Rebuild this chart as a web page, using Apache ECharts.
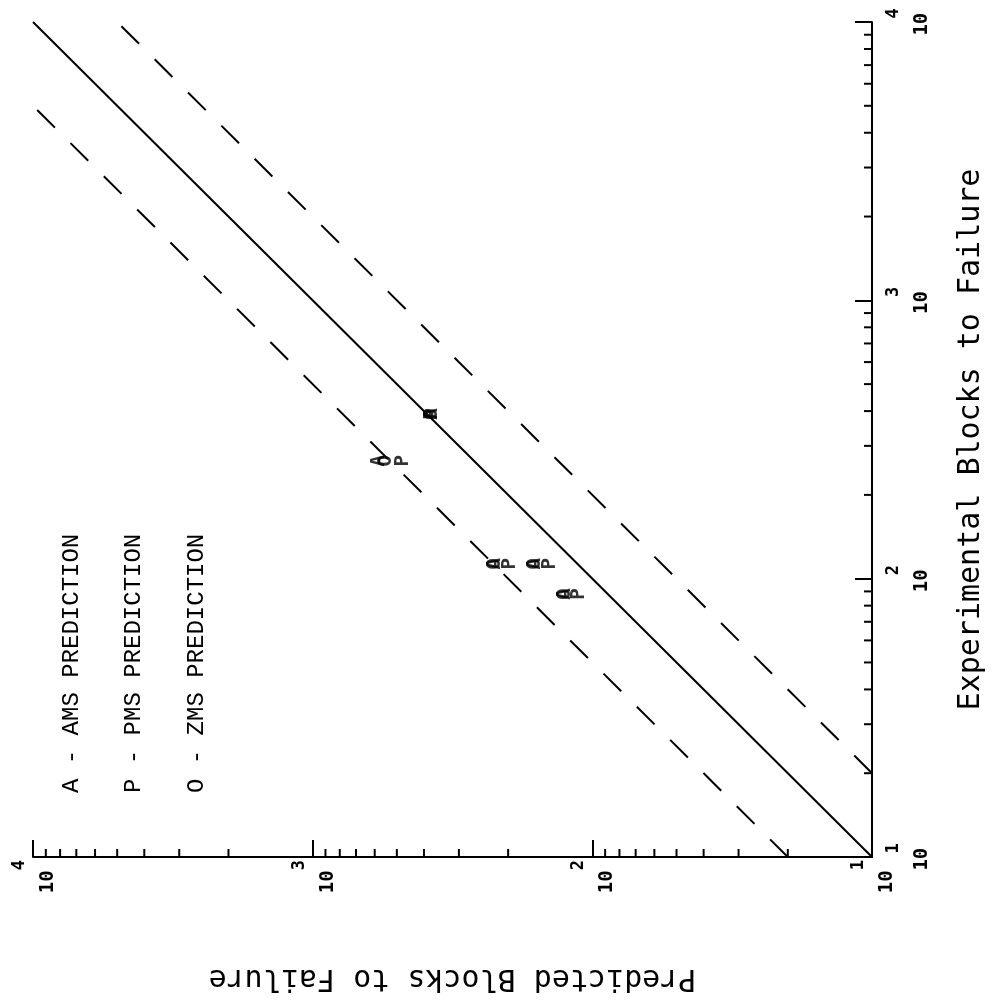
<!DOCTYPE html>
<html>
<head>
<meta charset="utf-8">
<script src="https://cdn.jsdelivr.net/npm/echarts@6/dist/echarts.min.js"></script>
<style>
  html, body { margin: 0; padding: 0; background: #fff; }
  #chart { width: 996px; height: 1003px; }
</style>
</head>
<body>
<div id="chart"></div>
<script>
// Predicted vs experimental blocks to failure on log-log axes, drawn a quarter turn
// counter-clockwise: experimental runs up the right edge, predicted runs along the bottom.
const experimental  = [390, 265, 113, 113, 88];
const amsPrediction = [374, 579, 223, 160, 125];
const pmsPrediction = [374, 475, 197, 142, 112];
const zmsPrediction = [374, 547, 223, 160, 125];

const legendLines = ['A - AMS PREDICTION', 'P - PMS PREDICTION', 'O - ZMS PREDICTION'];
const markerLetters = ['A', 'P', 'O'];
const axisRange = [10, 10000];
const bandFactor = 2;            // dashed lines at twice and half the experimental life
const xTitle = 'Experimental Blocks to Failure';
const yTitle = 'Predicted Blocks to Failure';

const MONO = '"DejaVu Sans Mono", monospace';

// minor tick values 2..9 in each decade
const minorTicks = [];
for (let d = axisRange[0]; d < axisRange[1]; d *= 10) {
  for (let k = 2; k <= 9; k++) minorTicks.push(k * d);
}

// pairs are [predicted, experimental]: predicted on the horizontal axis
const pairs = (pred) => experimental.map((e, i) => [pred[i], e]);

function minorTickSeries(onBottom) {
  return {
    type: 'custom',
    silent: true,
    clip: false,
    z: 5,
    data: minorTicks.map(v => onBottom ? [v, axisRange[0]] : [axisRange[0], v]),
    renderItem: (params, api) => {
      const p = api.coord([api.value(0), api.value(1)]);
      const shape = onBottom
        ? { x1: p[0], y1: p[1], x2: p[0], y2: p[1] - 8 }
        : { x1: p[0], y1: p[1], x2: p[0] - 8, y2: p[1] };
      return { type: 'line', shape, style: { stroke: '#000', lineWidth: 2 } };
    }
  };
}

function refLine(data, dashed) {
  return {
    type: 'line',
    data,
    silent: true,
    symbol: 'none',
    lineStyle: { color: '#000', width: 2, type: dashed ? [25, 22] : 'solid' },
    z: 3
  };
}

function letterSeries(letter, pred) {
  return {
    type: 'scatter',
    data: pairs(pred),
    symbolSize: 1,
    itemStyle: { color: 'rgba(0,0,0,0)' },
    emphasis: { disabled: true },
    label: {
      show: true,
      position: 'inside',
      formatter: letter,
      rotate: 90,
      fontFamily: MONO,
      fontWeight: 700,
      fontSize: 19,
      color: '#000'
    },
    z: 6
  };
}

// "10" with its exponent raised above it; the whole block is turned with the axis
function tickLabel(margin, exponentShift) {
  return {
    margin,
    rotate: 90,
    fontFamily: MONO,
    fontWeight: 700,
    fontSize: 19,
    color: '#000',
    formatter: (v) => '{e|' + Math.round(Math.log10(v)) + '}\n{b|10}',
    rich: {
      e: { fontFamily: MONO, fontWeight: 700, fontSize: 17, lineHeight: 30, align: 'left', padding: [0, 0, 0, exponentShift], color: '#000' },
      b: { fontFamily: MONO, fontWeight: 700, fontSize: 19, lineHeight: 27, align: 'left', color: '#000' }
    }
  };
}

const axisCommon = {
  type: 'log',
  logBase: 10,
  min: axisRange[0],
  max: axisRange[1],
  splitLine: { show: false },
  axisLine: { show: true, lineStyle: { color: '#000', width: 2 } },
  axisTick: { show: true, inside: true, length: 17, lineStyle: { color: '#000', width: 2 } },
  nameLocation: 'middle',
  nameTextStyle: { fontFamily: MONO, fontSize: 30, color: '#000' }
};

const chart = echarts.init(document.getElementById('chart'), null, { renderer: 'canvas' });

chart.setOption({
  backgroundColor: '#fff',
  animation: false,
  grid: { left: 33, right: 124, top: 22, bottom: 146 },
  xAxis: Object.assign({}, axisCommon, {
    position: 'bottom',
    inverse: true,
    name: yTitle,
    nameRotate: 180,
    nameGap: 106,
    axisLabel: tickLabel(3, 23)
  }),
  yAxis: Object.assign({}, axisCommon, {
    position: 'right',
    name: xTitle,
    nameRotate: 90,
    nameGap: 84,
    axisLabel: tickLabel(7, 17)
  }),
  graphic: legendLines.map((text, i) => ({
    type: 'text',
    x: [72, 134, 197][i],
    y: 793,
    rotation: Math.PI / 2,
    silent: true,
    style: {
      text,
      fontFamily: '"Liberation Mono", monospace',
      fontSize: 24,
      fill: '#000',
      textAlign: 'left',
      textVerticalAlign: 'middle'
    }
  })),
  series: [
    minorTickSeries(true),
    minorTickSeries(false),
    refLine([[axisRange[0], axisRange[0]], [axisRange[1], axisRange[1]]], false),
    refLine([[axisRange[0] * bandFactor, axisRange[0]], [axisRange[1], axisRange[1] / bandFactor]], true),
    refLine([[axisRange[0], axisRange[0] * bandFactor], [axisRange[1] / bandFactor, axisRange[1]]], true),
    letterSeries(markerLetters[0], amsPrediction),
    letterSeries(markerLetters[2], zmsPrediction),
    letterSeries(markerLetters[1], pmsPrediction)
  ]
});
</script>
</body>
</html>
